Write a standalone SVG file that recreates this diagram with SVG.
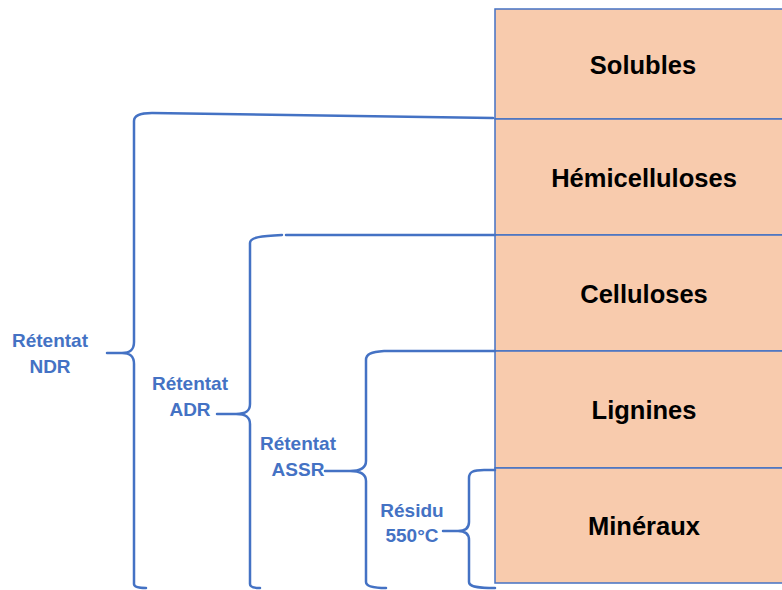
<svg xmlns="http://www.w3.org/2000/svg" width="782" height="590" viewBox="0 0 782 590">
<style>
.box{fill:#F8CBAD;stroke:#4472C4;stroke-width:1.5}
.bt{font-family:"Liberation Sans",Arial,sans-serif;font-weight:bold;font-size:25.5px;fill:#000;text-anchor:middle}
.lt{font-family:"Liberation Sans",Arial,sans-serif;font-weight:bold;font-size:19px;fill:#4472C4;text-anchor:middle}
.br{fill:none;stroke:#4472C4;stroke-width:2.5;stroke-linecap:round;stroke-linejoin:round}
</style>
<rect width="782" height="590" fill="#fff"/>
<g id="solubles"><rect class="box" x="495" y="9" width="300" height="110"/><text class="bt" x="643" y="74">Solubles</text></g>
<g id="hemicelluloses"><rect class="box" x="495" y="119" width="300" height="116"/><text class="bt" x="644" y="187">Hémicelluloses</text></g>
<g id="celluloses"><rect class="box" x="495" y="235" width="300" height="116"/><text class="bt" x="644" y="303">Celluloses</text></g>
<g id="lignines"><rect class="box" x="495" y="351" width="300" height="117"/><text class="bt" x="644" y="419">Lignines</text></g>
<g id="mineraux"><rect class="box" x="495" y="468" width="300" height="115"/><text class="bt" x="644" y="535">Minéraux</text></g>
<g id="connectors">
<path class="br" d="M493 118 L152 113 C140 113 134 115 134 121 L134 342 C134 350 130 353 122 353 L107 353 M122 353 C130 353 134 356 134 364 L134 584 C134 587 138 588 146 588"/>
<path class="br" d="M495 235 L286 235 M282 235 C262 236 250 237 250 243 L250 404 C250 411 246 414 236 414 L217 414 M236 414 C246 414 250 417 250 424 L250 584 C250 587 253 588 260 588"/>
<path class="br" d="M495 351 L384 351 C371 352 366 354 366 360 L366 461 C366 468 361 471 350 471 L325 471 M350 471 C361 471 366 474 366 481 L366 582 C366 586 372 588 386 588"/>
<path class="br" d="M495 470 L484 470 C473 470 469 472 469 478 L469 522 C469 528 466 531 458 531 L443 531 M458 531 C466 531 469 534 469 540 L469 582 C469 586 474 588 495 588"/>
</g>
<g id="labels">
<text class="lt" x="50" y="347">Rétentat</text><text class="lt" x="50" y="373">NDR</text>
<text class="lt" x="190" y="390">Rétentat</text><text class="lt" x="190" y="416">ADR</text>
<text class="lt" x="298" y="450">Rétentat</text><text class="lt" x="298" y="476">ASSR</text>
<text class="lt" x="412" y="517">Résidu</text><text class="lt" x="412" y="542">550°C</text>
</g>
</svg>
